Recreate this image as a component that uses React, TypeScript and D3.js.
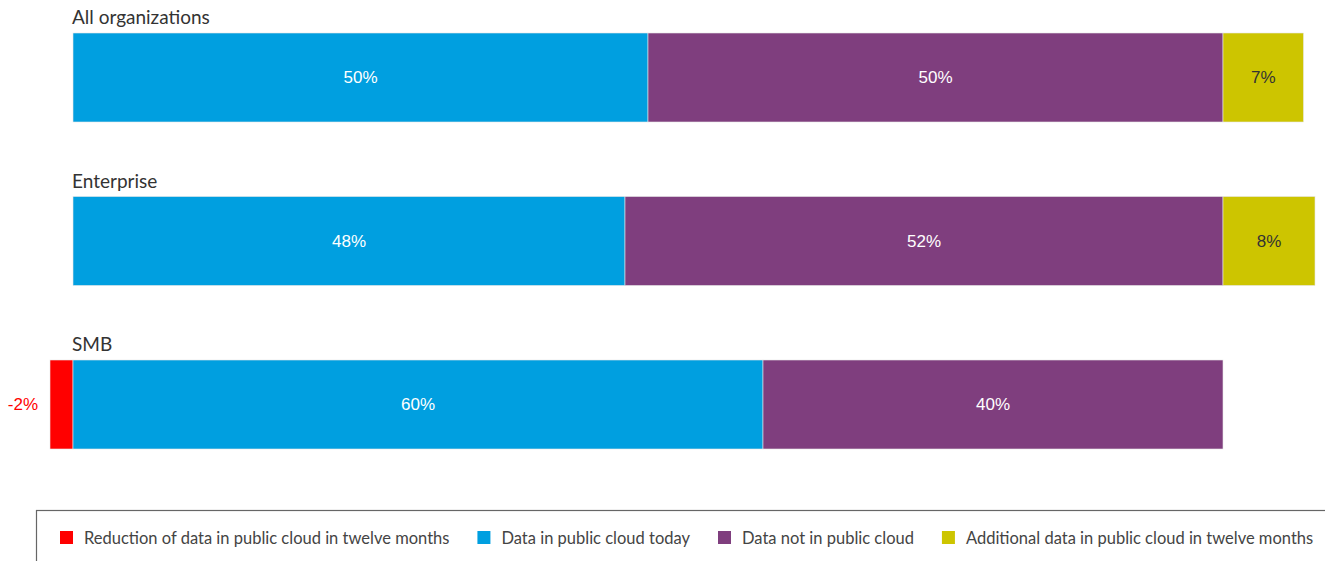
import React, { useEffect, useRef } from "react";
import * as d3 from "d3";

const categories = ["All organizations", "Enterprise", "SMB"];
const seriesNames = [
  "Reduction of data in public cloud in twelve months",
  "Data in public cloud today",
  "Data not in public cloud",
  "Additional data in public cloud in twelve months",
];
const seriesColors = ["#ff0000", "#009fe0", "#7f3e7e", "#cdc500"];
const reduction = [0, 0, -2];
const inCloudToday = [50, 48, 60];
const notInCloud = [50, 52, 40];
const additional = [7, 8, 0];

const W = 1325;
const H = 561;

export default function App() {
  const ref = useRef<SVGSVGElement>(null);
  useEffect(() => {
    const svg = d3.select(ref.current);
    svg.selectAll("*").remove();
    const x = d3.scaleLinear().domain([0, 100]).range([73, 1223]);
    const step = 163.5;
    const bh = 89;
    const rowY = (i: number) => 33 + i * step;

    categories.forEach((c, i) => {
      const g = svg.append("g");
      const y0 = rowY(i);
      g.append("text")
        .attr("x", 72)
        .attr("y", y0 - 9)
        .attr("font-family", "Lato, 'Noto Sans', sans-serif")
        .attr("font-size", 19)
        .attr("fill", "#333")
        .text(c);
      const segs: { v: number; x0: number; x1: number; color: string; dark?: boolean }[] = [];
      if (reduction[i] < 0) segs.push({ v: reduction[i], x0: reduction[i], x1: 0, color: seriesColors[0] });
      segs.push({ v: inCloudToday[i], x0: 0, x1: inCloudToday[i], color: seriesColors[1] });
      segs.push({ v: notInCloud[i], x0: inCloudToday[i], x1: inCloudToday[i] + notInCloud[i], color: seriesColors[2] });
      if (additional[i] > 0)
        segs.push({ v: additional[i], x0: 100, x1: 100 + additional[i], color: seriesColors[3], dark: true });
      segs.forEach((s) => {
        g.append("rect")
          .attr("x", x(s.x0))
          .attr("y", y0)
          .attr("width", x(s.x1) - x(s.x0))
          .attr("height", bh)
          .attr("fill", s.color)
          .attr("stroke", "#e8e8e8")
          .attr("stroke-width", 0.6);
        if (s.v < 0) {
          g.append("text")
            .attr("x", x(s.x0) - 12)
            .attr("y", y0 + bh / 2)
            .attr("dy", "0.35em")
            .attr("text-anchor", "end")
            .attr("font-family", "'Liberation Sans', Arial, sans-serif")
            .attr("font-size", 17)
            .attr("fill", "#ff0000")
            .text(`${s.v}%`);
        } else {
          g.append("text")
            .attr("x", (x(s.x0) + x(s.x1)) / 2)
            .attr("y", y0 + bh / 2)
            .attr("dy", "0.35em")
            .attr("text-anchor", "middle")
            .attr("font-family", "'Liberation Sans', Arial, sans-serif")
            .attr("font-size", 17)
            .attr("fill", s.dark ? "#333" : "#fff")
            .text(`${s.v}%`);
        }
      });
    });

    // legend
    svg.append("rect")
      .attr("x", 36.5)
      .attr("y", 510.5)
      .attr("width", 1300)
      .attr("height", 80)
      .attr("fill", "none")
      .attr("stroke", "#666")
      .attr("stroke-width", 1.2);
    let lx = 60;
    seriesNames.forEach((n, i) => {
      svg.append("rect").attr("x", lx).attr("y", 531).attr("width", 13).attr("height", 13).attr("fill", seriesColors[i]);
      const t = svg.append("text")
        .attr("x", lx + 24)
        .attr("y", 544)
        .attr("font-family", "Lato, 'Noto Sans', sans-serif")
        .attr("font-size", 16.5)
        .attr("fill", "#444")
        .text(n);
      const w = (t.node() as SVGTextElement).getComputedTextLength();
      lx = lx + 24 + w + 28;
    });
  }, []);
  return (
    <svg ref={ref} width={W} height={H} style={{ position: "absolute", left: 0, top: 0, background: "#fff" }} />
  );
}
